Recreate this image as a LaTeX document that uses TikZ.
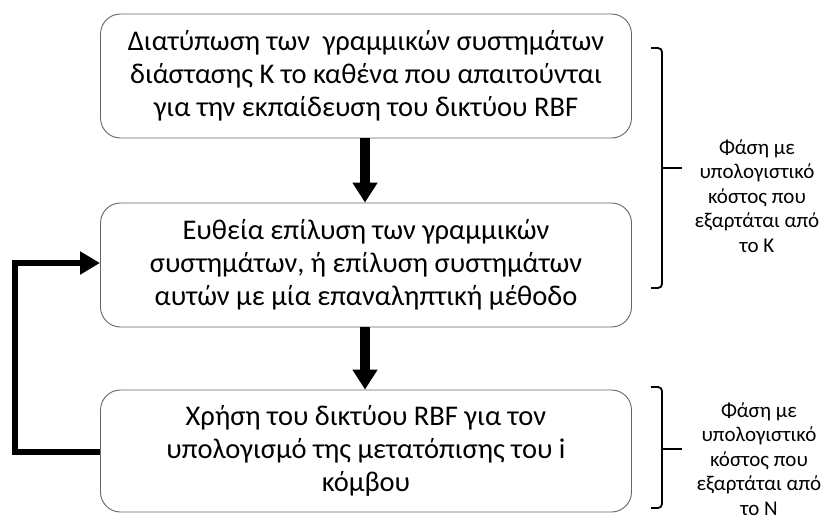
\documentclass[tikz,border=0pt]{standalone}
\usepackage{fontspec}
\setmainfont{Carlito}
\usetikzlibrary{arrows.meta}
\begin{document}
\begin{tikzpicture}[x=1pt,y=-1pt,
  stepbox/.style={draw=black!60, line width=0.9pt, rounded corners=20pt, minimum width=531pt, minimum height=124pt, align=center, inner sep=0pt, font=\fontsize{28.5}{33}\selectfont},
  bigarrow/.style={line width=10pt, -{Triangle[width=24pt,length=20pt]}},
  backarrow/.style={line width=6pt, -{Triangle[width=22pt,length=20pt]}},
  bracefig/.style={line width=1.8pt, rounded corners=4pt},
  sidetext/.style={align=center, inner sep=0pt, font=\fontsize{21}{24.5}\selectfont}]
\useasboundingbox (0,0) rectangle (831,520);
\node[stepbox] (b1) at (366,76) {Διατύπωση των\ \ γραμμικών συστημάτων\\διάστασης Κ το καθένα που απαιτούνται\\για την εκπαίδευση του δικτύου RBF};
\node[stepbox] (b2) at (366,265) {Ευθεία επίλυση των γραμμικών\\συστημάτων, ή επίλυση συστημάτων\\αυτών με μία επαναληπτική μέθοδο};
\node[stepbox, minimum height=122pt] (b3) at (366,451) {Χρήση του δικτύου RBF για τον\\υπολογισμό της μετατόπισης του i\\κόμβου};
\draw[bigarrow] (b1.south -| 365,0) -- (b2.north -| 365,0);
\draw[bigarrow] (b2.south -| 365,0) -- (b3.north -| 365,0);
\coordinate (fb1) at (15,452);
\coordinate (fb2) at (15,263);
\draw[backarrow] (b3.west |- fb1) -- (fb1) -- (fb2) -- (b2.west |- fb2);
\draw[bracefig] (651,48) -- (662,48) -- (662,288) -- (651,288);
\draw[line width=1.8pt] (662,168) -- (682,168);
\draw[bracefig] (651,387) -- (662,387) -- (662,508) -- (651,508);
\draw[line width=1.8pt] (662,449) -- (682,449);
\node[sidetext] (t1) at (757,196) {Φάση με\\υπολογιστικό\\κόστος που\\εξαρτάται από\\το Κ};
\node[sidetext] (t2) at (759,459) {Φάση με\\υπολογιστικό\\κόστος που\\εξαρτάται από\\το Ν};
\end{tikzpicture}
\end{document}
